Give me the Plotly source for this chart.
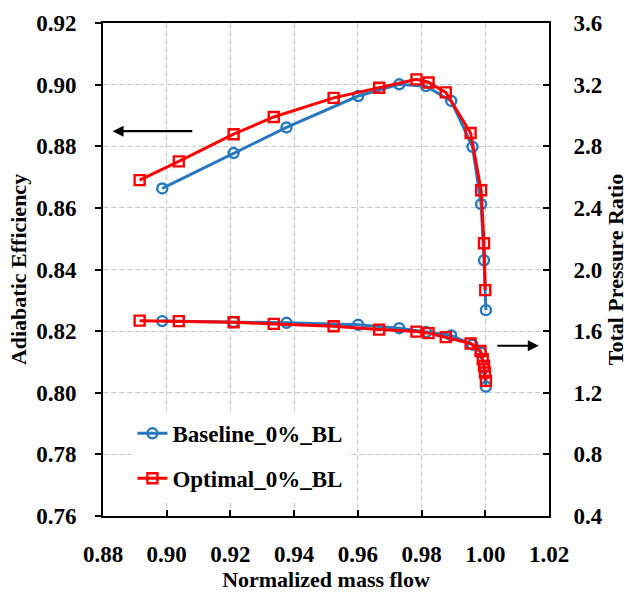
import plotly.graph_objects as go

# ---- data ----
base_flow = [0.8986, 0.9210, 0.9376, 0.9601, 0.9730, 0.9814, 0.9893, 0.9960, 0.9987, 0.9996, 1.0002]
base_eff = [0.8663, 0.8778, 0.8861, 0.8963, 0.9001, 0.8995, 0.8947, 0.8798, 0.8612, 0.8430, 0.8268]
base_pr = [1.665, 1.660, 1.654, 1.641, 1.619, 1.594, 1.572, 1.512, 1.460, 1.360, 1.239]

opt_flow = [0.8915, 0.9038, 0.9210, 0.9336, 0.9524, 0.9667, 0.9784, 0.9822, 0.9876, 0.9954, 0.9987, 0.9996, 1.0000]
opt_eff = [0.8690, 0.8751, 0.8839, 0.8895, 0.8957, 0.8990, 0.9017, 0.9007, 0.8975, 0.8843, 0.8657, 0.8485, 0.8333]
opt_pr_flow = [0.8915, 0.9038, 0.9210, 0.9336, 0.9524, 0.9667, 0.9784, 0.9822, 0.9876, 0.9954,
               0.9985, 0.9992, 0.9996, 0.9999, 1.0002]
opt_pr = [1.668, 1.665, 1.658, 1.647, 1.632, 1.610, 1.597, 1.587, 1.561, 1.520,
          1.471, 1.417, 1.374, 1.331, 1.277]

names = ["Baseline_0%_BL", "Optimal_0%_BL"]
x_ticks = [0.88, 0.90, 0.92, 0.94, 0.96, 0.98, 1.00, 1.02]

BLUE = "rgb(40,120,190)"
RED = "rgb(255,0,0)"
FONT = "Liberation Serif"

fig = go.Figure()

fig.add_trace(go.Scatter(x=base_flow, y=base_eff, mode="lines+markers", name=names[0],
                         legendgroup="b", line=dict(color=BLUE, width=3),
                         marker=dict(symbol="circle-open", size=10, color=BLUE, line=dict(width=2.4))))
fig.add_trace(go.Scatter(x=opt_flow, y=opt_eff, mode="lines+markers", name=names[1],
                         legendgroup="r", line=dict(color=RED, width=3),
                         marker=dict(symbol="square-open", size=10, color=RED, line=dict(width=2.4))))
fig.add_trace(go.Scatter(x=base_flow, y=base_pr, mode="lines+markers", name=names[0],
                         legendgroup="b", showlegend=False, yaxis="y2",
                         line=dict(color=BLUE, width=3),
                         marker=dict(symbol="circle-open", size=10, color=BLUE, line=dict(width=2.4))))
fig.add_trace(go.Scatter(x=opt_pr_flow, y=opt_pr, mode="lines+markers", name=names[1],
                         legendgroup="r", showlegend=False, yaxis="y2",
                         line=dict(color=RED, width=3),
                         marker=dict(symbol="square-open", size=10, color=RED, line=dict(width=2.4))))

tickfont = dict(family=FONT, size=23, color="black", weight="bold")
titlefont = dict(family=FONT, size=22, color="black", weight="bold")
grid = dict(showgrid=True, gridcolor="rgb(200,200,200)", gridwidth=1.2, griddash="5px,3px")

fig.update_layout(
    width=630, height=592,
    margin=dict(l=103, r=81, t=23, b=76),
    plot_bgcolor="white", paper_bgcolor="white",
    xaxis=dict(range=[0.88, 1.02], tickvals=x_ticks, tickformat=".2f", automargin=False,
               showline=True, linecolor="black", linewidth=2, mirror=True,
               ticks="inside", ticklen=6, tickwidth=2, tickcolor="black",
               ticklabelstandoff=16, tickfont=tickfont, zeroline=False,
               title=dict(text="Normalized mass flow", font=titlefont, standoff=12), **grid),
    yaxis=dict(range=[0.76, 0.92], dtick=0.02, tickformat=".2f", automargin=False,
               showline=True, linecolor="black", linewidth=2,
               ticks="outside", ticklen=6, tickwidth=2, tickcolor="black",
               ticklabelstandoff=14, tickfont=tickfont, zeroline=False,
               title=dict(text="Adiabatic Efficiency", font=titlefont, standoff=3), **grid),
    yaxis2=dict(range=[0.4, 3.6], dtick=0.4, tickformat=".1f", overlaying="y", side="right",
                automargin=False,
                showline=True, linecolor="black", linewidth=2, showgrid=False,
                ticks="inside", ticklen=6, tickwidth=2, tickcolor="black",
                ticklabelstandoff=18, tickfont=tickfont, zeroline=False,
                title=dict(text="Total Pressure Ratio", font=titlefont, standoff=6)),
    legend=dict(x=0.066, y=0.122, xanchor="left", yanchor="middle",
                bgcolor="white", borderwidth=0, traceorder="grouped", tracegroupgap=12,
                font=dict(family=FONT, size=23, color="black", weight="bold"),
                itemwidth=30),
    showlegend=True,
)

# direction arrows
fig.add_annotation(x=0.8830, y=0.8849, ax=0.9085, ay=0.8849, xref="x", yref="y",
                   axref="x", ayref="y", showarrow=True, arrowhead=2, arrowsize=1,
                   arrowwidth=2.2, arrowcolor="black", text="")
fig.add_annotation(x=1.0168, y=1.505, ax=1.0033, ay=1.505, xref="x", yref="y2",
                   axref="x", ayref="y2", showarrow=True, arrowhead=2, arrowsize=1,
                   arrowwidth=2.2, arrowcolor="black", text="")

fig.write_html("out.html")
